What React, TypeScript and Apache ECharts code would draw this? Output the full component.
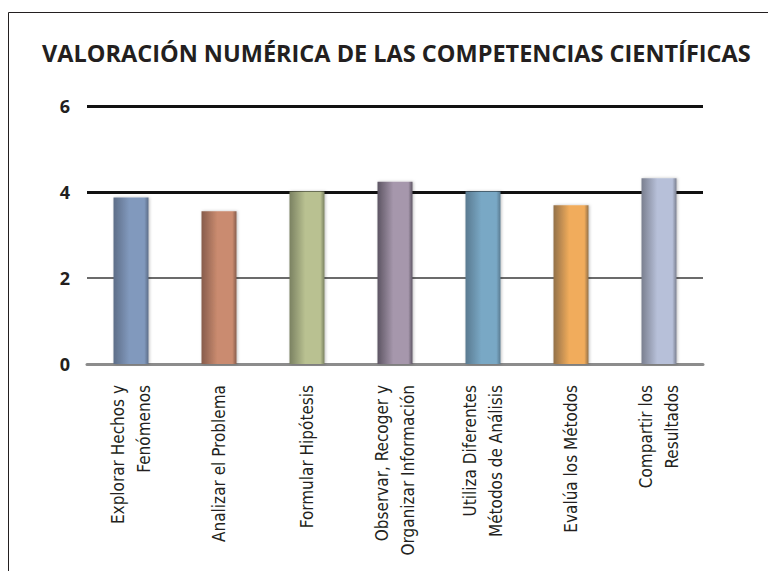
import React, { useEffect, useRef } from "react";
import * as echarts from "echarts";

const titleText = "VALORACIÓN NUMÉRICA DE LAS COMPETENCIAS CIENTÍFICAS";
const categories = [
  "Explorar Hechos y\nFenómenos",
  "Analizar el Problema",
  "Formular Hipótesis",
  "Observar, Recoger y\nOrganizar Información",
  "Utiliza Diferentes\nMétodos de Análisis",
  "Evalúa los Métodos",
  "Compartir los\nResultados",
];
const values = [3.87, 3.55, 4.01, 4.24, 4.01, 3.69, 4.32];
const darkColors = ["#5d6d87", "#875c4c", "#7a8161", "#5d5563", "#5a7a90", "#927049", "#7a7f8f"];
const lightColors = ["#8199bd", "#ca8b6f", "#b9c191", "#a697ac", "#79a8c5", "#f1ac5b", "#b7c0d9"];
const yTicks = [0, 2, 4, 6];
const heavyLines = [4, 6];

export default function App() {
  const ref = useRef<HTMLDivElement>(null);
  useEffect(() => {
    document.body.style.margin = "0";
    if (!ref.current) return;
    const chart = echarts.init(ref.current, undefined, { renderer: "svg" });
    const data = values.map((v, i) => ({
      value: v,
      itemStyle: {
        color: new echarts.graphic.LinearGradient(0, 0, 1, 0, [
          { offset: 0, color: darkColors[i] },
          { offset: 0.45, color: lightColors[i] },
          { offset: 0.88, color: lightColors[i] },
          { offset: 1, color: darkColors[i] },
        ]),
        shadowColor: "rgba(0,0,0,0.25)",
        shadowBlur: 3,
        shadowOffsetX: 1,
      },
    }));
    chart.setOption({
      animation: false,
      backgroundColor: "#ffffff",
      title: {
        text: titleText,
        left: 37,
        top: 36,
        textStyle: {
          fontFamily: "'Open Sans', sans-serif",
          fontWeight: "bold",
          fontSize: 23.5,
          color: "#231f20",
        },
      },
      graphic: [
        {
          type: "rect",
          shape: { x: 8.5, y: 12.5, width: 900, height: 700 },
          style: { fill: "none", stroke: "#231f20", lineWidth: 1 },
          silent: true,
        },
      ],
      grid: {
        left: 87,
        right: 65,
        top: 106,
        bottom: 207,
        containLabel: false,
        outerBoundsMode: "none",
      },
      xAxis: {
        type: "category",
        data: categories,
        axisTick: { show: false },
        axisLine: { show: true, lineStyle: { color: "#8c8c8c", width: 3 } },
        axisLabel: {
          interval: 0,
          rotate: 90,
          margin: 21,
          fontFamily: "'Liberation Sans Narrow', 'Arial Narrow', 'DejaVu Sans Condensed', sans-serif",
          fontSize: 17,
          lineHeight: 26,
          color: "#231f20",
        },
      },
      yAxis: {
        type: "value",
        min: yTicks[0],
        max: yTicks[yTicks.length - 1],
        interval: 2,
        axisLine: { show: false },
        axisTick: { show: false },
        axisLabel: {
          margin: 17,
          fontFamily: "'Open Sans', sans-serif",
          fontWeight: "bold",
          fontSize: 18,
          color: "#231f20",
        },
        splitLine: {
          show: true,
          lineStyle: { color: "#3a3a3a", width: 1.5 },
        },
      },
      series: [
        {
          type: "bar",
          data,
          barWidth: 35,
          z: 3,
          markLine: {
            silent: true,
            symbol: "none",
            z: 1,
            label: { show: false },
            lineStyle: { color: "#111111", width: 3, type: "solid" },
            data: heavyLines.map((y) => ({ yAxis: y })),
          },
        },
      ],
    });
    return () => chart.dispose();
  }, []);
  return <div ref={ref} style={{ width: 768, height: 571 }} />;
}
